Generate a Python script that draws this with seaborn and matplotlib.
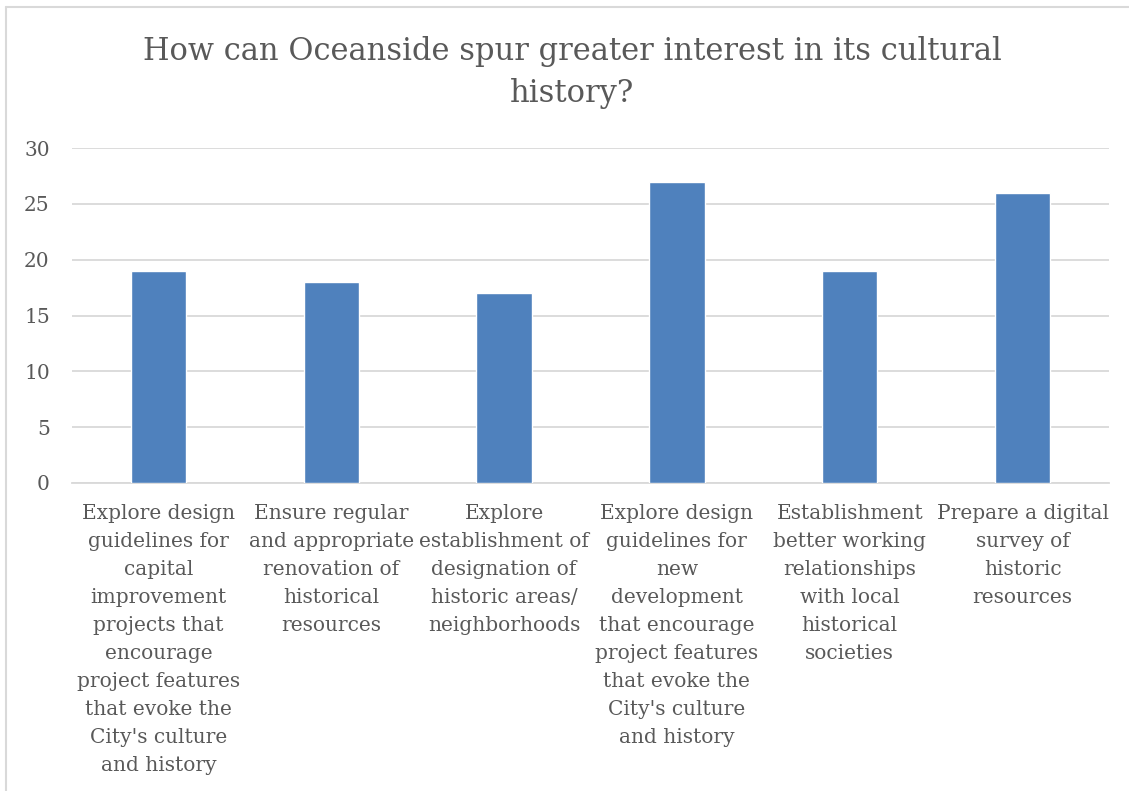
import matplotlib
matplotlib.use("Agg")
import matplotlib.pyplot as plt
from matplotlib.lines import Line2D
import seaborn as sns
import pandas as pd

categories = [
    "Explore design\nguidelines for\ncapital\nimprovement\nprojects that\nencourage\nproject features\nthat evoke the\nCity's culture\nand history",
    "Ensure regular\nand appropriate\nrenovation of\nhistorical\nresources",
    "Explore\nestablishment of\ndesignation of\nhistoric areas/\nneighborhoods",
    "Explore design\nguidelines for\nnew\ndevelopment\nthat encourage\nproject features\nthat evoke the\nCity's culture\nand history",
    "Establishment\nbetter working\nrelationships\nwith local\nhistorical\nsocieties",
    "Prepare a digital\nsurvey of\nhistoric\nresources",
]
counts = [19, 18, 17, 27, 19, 26]
yticks = [0, 5, 10, 15, 20, 25, 30]
title = "How can Oceanside spur greater interest in its cultural\nhistory?"

df = pd.DataFrame({"option": categories, "count": counts})

sns.set_theme(style="white")
plt.rcParams['font.family'] = ['DejaVu Serif']
txt = '#595959'

fig = plt.figure(figsize=(11.29, 7.91), dpi=100)
ax = fig.add_axes([72 / 1129, 1 - 483 / 791, (1109 - 72) / 1129, (483 - 148) / 791])

sns.barplot(data=df, x="option", y="count", color="#4F81BD", saturation=1,
            width=0.32, ax=ax, zorder=3)

ax.set_ylim(0, 30)
ax.set_yticks(yticks)
ax.yaxis.grid(True, color='#D9D9D9', linewidth=1.3, zorder=0)
ax.set_axisbelow(True)
for s in ['top', 'right', 'left']:
    ax.spines[s].set_visible(False)
ax.spines['bottom'].set_color('#D9D9D9')
ax.spines['bottom'].set_linewidth(1.3)
ax.set_xlabel('')
ax.set_ylabel('')
ax.tick_params(axis='both', length=0, colors=txt, labelsize=14.5)
ax.tick_params(axis='y', pad=16)
ax.tick_params(axis='x', pad=15)
for lab in ax.get_xticklabels():
    lab.set_linespacing(1.6)
    lab.set_color(txt)

fig.text(572 / 1129, 1 - 36 / 791, title, ha='center', va='top', fontsize=22,
         color=txt, linespacing=1.47)

# chart border (cut off on the right and bottom)
fig.add_artist(Line2D([6 / 1129, 6 / 1129], [0, 1 - 7 / 791], color='#D9D9D9', lw=1.5))
fig.add_artist(Line2D([6 / 1129, 1], [1 - 7 / 791, 1 - 7 / 791], color='#D9D9D9', lw=1.5))

fig.savefig("out.png", dpi=100, facecolor='white')
